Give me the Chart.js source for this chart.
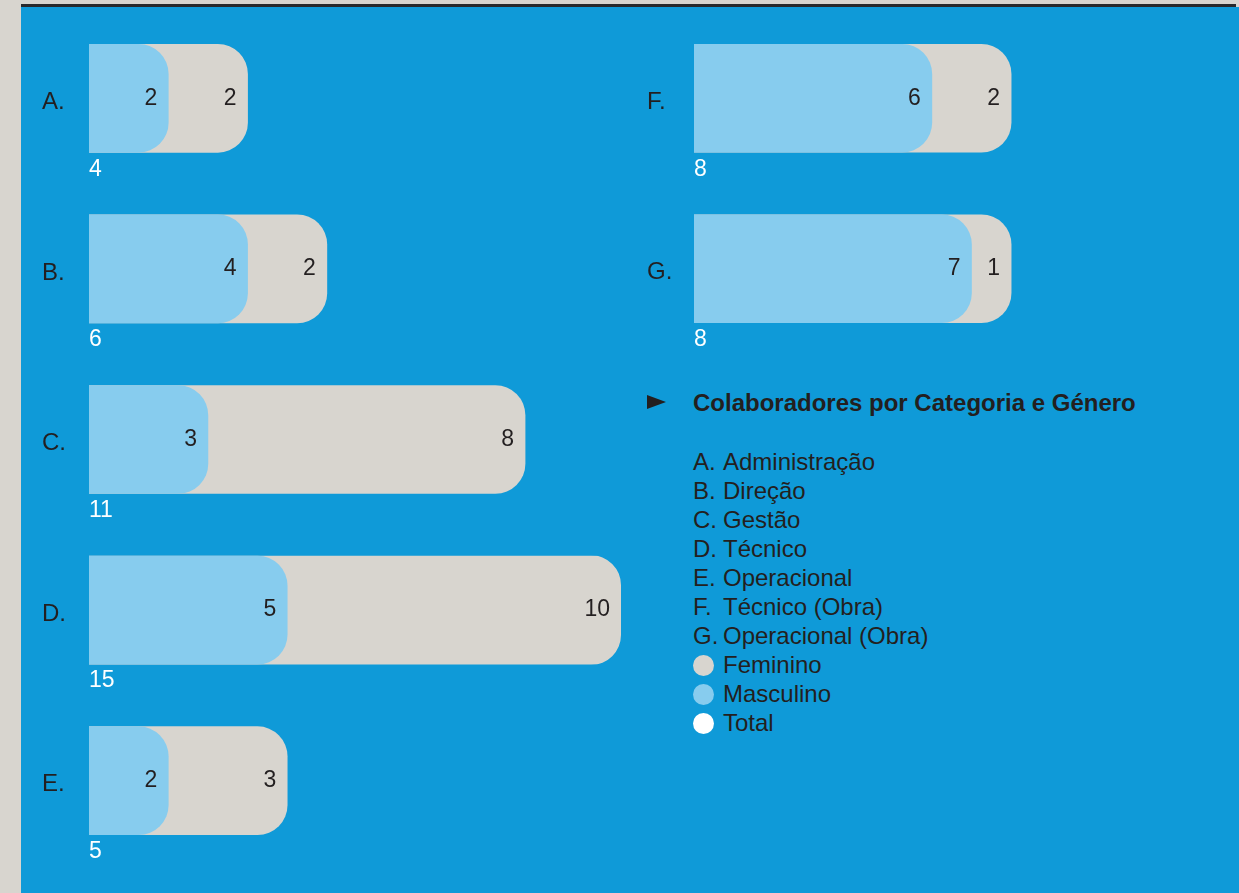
<!DOCTYPE html>
<html lang="pt">
<head>
<meta charset="UTF-8">
<title>Colaboradores por Categoria e Género</title>
<script src="https://cdn.jsdelivr.net/npm/chart.js"></script>
<style>
  body { margin: 0; width: 1239px; height: 893px; overflow: hidden; position: relative;
         background: #d8d5cf; font-family: "Liberation Sans", Arial, Helvetica, sans-serif; color: #231f20; }
  #painel { position: absolute; left: 21px; top: 7px; right: 0; bottom: 0; background: #0f9ad8; }
  #linha { position: absolute; left: 21px; top: 4px; width: 1215px; height: 3px; background: #28292c; }
  canvas { position: absolute; }
  #graficoEsq { left: 0; top: 13px; }
  #graficoDir { left: 605px; top: 13px; }
  #seta { position: absolute; left: 647px; top: 395px; width: 0; height: 0;
          border-left: 19px solid #231f20; border-top: 7.5px solid transparent; border-bottom: 7.5px solid transparent; }
  #titulo { position: absolute; left: 693px; top: 388px; font-size: 24px; font-weight: bold; line-height: 29px; }
  #legenda { position: absolute; left: 693px; top: 447px; font-size: 24px; line-height: 29px; }
  #legenda .chave { display: inline-block; width: 30px; }
  #legenda .bola { display: inline-block; width: 21px; height: 21px; border-radius: 50%; vertical-align: -3px; margin-right: 9px; }
</style>
</head>
<body>
<div id="painel"></div>
<div id="linha"></div>
<canvas id="graficoEsq" width="640" height="853"></canvas>
<canvas id="graficoDir" width="634" height="341"></canvas>
<div id="seta"></div>
<div id="titulo">Colaboradores por Categoria e Género</div>
<div id="legenda"></div>

<script>
// dados
const categoriasEsq = ['A.', 'B.', 'C.', 'D.', 'E.'];
const femininoEsq = [2, 2, 8, 10, 3];
const masculinoEsq = [2, 4, 3, 5, 2];

const categoriasDir = ['F.', 'G.'];
const femininoDir = [2, 1];
const masculinoDir = [6, 7];

const nomesCategorias = ['Administração', 'Direção', 'Gestão', 'Técnico', 'Operacional', 'Técnico (Obra)', 'Operacional (Obra)'];
const series = ['Feminino', 'Masculino', 'Total'];

const corFeminino = '#d8d5cf';
const corMasculino = '#87ccee';
const corTotal = '#ffffff';
const corTexto = '#231f20';
const fonte = '"Liberation Sans", Arial, Helvetica, sans-serif';
const raio = 30;

// escala comum aos dois gráficos (o D fica cortado no limite, como no original)
const eixoMax = 13.42;

function criarGrafico(id, categorias, feminino, masculino, padding) {
    const totais = feminino.map((f, i) => f + masculino[i]);

    // recorte com cantos arredondados, para a barra cortada no limite manter a ponta redonda
    const recorte = {
        id: 'recorte',
        beforeDatasetsDraw(chart) {
            const ctx = chart.ctx;
            const area = chart.chartArea;
            const tMeta = chart.getDatasetMeta(1);
            ctx.save();
            ctx.beginPath();
            tMeta.data.forEach(el => {
                ctx.roundRect(area.left - 2, el.y - el.height / 2 - 1, area.right - area.left + 2, el.height + 2, [0, raio, raio, 0]);
            });
            ctx.clip();
        },
        afterDatasetsDraw(chart) {
            chart.ctx.restore();
        }
    };

    const rotulos = {
        id: 'rotulos',
        afterDatasetsDraw(chart) {
            const ctx = chart.ctx;
            const area = chart.chartArea;
            const mMeta = chart.getDatasetMeta(0);
            const tMeta = chart.getDatasetMeta(1);
            ctx.save();
            categorias.forEach((cat, i) => {
                const mEl = mMeta.data[i];
                const tEl = tMeta.data[i];
                const y = tEl.y;

                ctx.font = '23px ' + fonte;
                ctx.textBaseline = 'middle';
                ctx.textAlign = 'right';
                ctx.fillStyle = corTexto;
                ctx.fillText(String(masculino[i]), Math.min(mEl.x, area.right) - 11, y);
                ctx.fillText(String(feminino[i]), Math.min(tEl.x, area.right) - 11, y);

                ctx.textAlign = 'left';
                ctx.fillStyle = corTotal;
                ctx.fillText(String(totais[i]), area.left, y + tEl.height / 2 + 17);

                ctx.font = '24px ' + fonte;
                ctx.fillStyle = corTexto;
                ctx.fillText(cat, area.left - 47, y + 4);
            });
            ctx.restore();
        }
    };

    return new Chart(document.getElementById(id), {
        type: 'bar',
        data: {
            labels: categorias,
            datasets: [
                {
                    label: 'Masculino',
                    data: masculino,
                    backgroundColor: corMasculino,
                    borderRadius: raio,
                    barThickness: 108,
                    grouped: false
                },
                {
                    label: 'Total',
                    data: totais,
                    backgroundColor: corFeminino,
                    borderRadius: raio,
                    barThickness: 108,
                    grouped: false
                }
            ]
        },
        options: {
            indexAxis: 'y',
            responsive: false,
            animation: false,
            layout: { padding: padding },
            scales: {
                x: { display: false, min: 0, max: eixoMax },
                y: { display: false }
            },
            plugins: {
                legend: { display: false },
                tooltip: { enabled: false }
            }
        },
        plugins: [recorte, rotulos]
    });
}

criarGrafico('graficoEsq', categoriasEsq, femininoEsq, masculinoEsq, { left: 89, right: 19, top: 0, bottom: 0 });
criarGrafico('graficoDir', categoriasDir, femininoDir, masculinoDir, { left: 89, right: 13, top: 0, bottom: 0 });

// legenda em texto
const legenda = document.getElementById('legenda');
const letras = categoriasEsq.concat(categoriasDir);
letras.forEach((l, i) => {
    const d = document.createElement('div');
    d.innerHTML = '<span class="chave">' + l + '</span>' + nomesCategorias[i];
    legenda.appendChild(d);
});
const coresSeries = [corFeminino, corMasculino, corTotal];
series.forEach((s, i) => {
    const d = document.createElement('div');
    d.innerHTML = '<span class="bola" style="background:' + coresSeries[i] + '"></span>' + s;
    legenda.appendChild(d);
});
</script>
</body>
</html>
